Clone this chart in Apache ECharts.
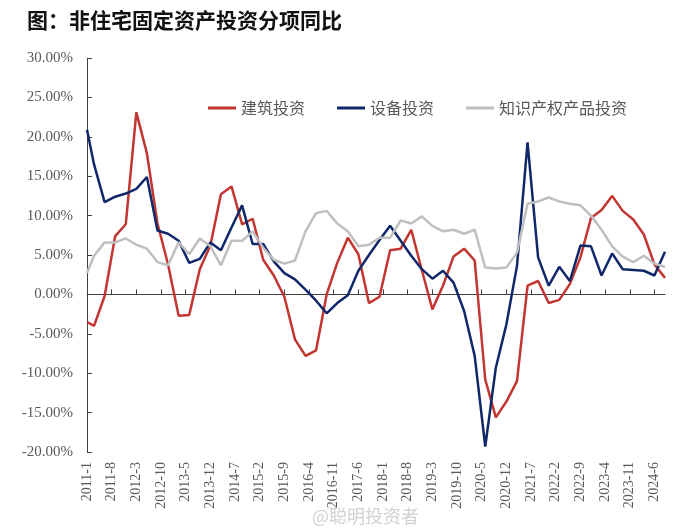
<!DOCTYPE html>
<html>
<head>
<meta charset="utf-8">
<script src="https://cdn.jsdelivr.net/npm/echarts@6/dist/echarts.min.js"></script>
<style>
  html, body { margin: 0; padding: 0; background: #fff; }
  #main { width: 700px; height: 532px; }
</style>
</head>
<body>
<div id="main"></div>
<script>
// 月度类目轴：2011-1 ~ 2024-9
const months = []
for (let y = 2011; y <= 2024; y++) {
  for (let m = 1; m <= 12; m++) {
    if (y === 2024 && m > 9) break
    months.push(y + '-' + m)
  }
}
// 数据点日期：首点 2011-1，之后为季末月
const pointDates = ['2011-1']
for (let y = 2011; y <= 2024; y++) {
  for (const m of [3, 6, 9, 12]) {
    if (y === 2024 && m > 9) break
    pointDates.push(y + '-' + m)
  }
}

const names = ['建筑投资', '设备投资', '知识产权产品投资']

// 建筑投资 同比(%)
const building = [
  -3.5, -4.0, -0.2, 7.4, 8.9, 23.1, 17.9, 9.0, 3.8, -2.7,
  -2.6, 3.2, 6.2, 12.7, 13.7, 8.9, 9.6, 4.4, 2.4, -0.3,
  -5.7, -7.8, -7.1, 0.0, 4.0, 7.2, 5.1, -1.1, -0.3, 5.6,
  5.8, 8.2, 3.1, -1.9, 1.1, 4.8, 5.8, 4.3, -10.8, -15.6,
  -13.6, -11.0, 1.1, 1.7, -1.1, -0.7, 1.3, 4.7, 9.7, 10.7,
  12.5, 10.6, 9.5, 7.6, 3.8, 2.1
]
// 设备投资 同比(%)
const equipment = [
  20.9, 16.5, 11.7, 12.4, 12.8, 13.4, 14.9, 8.1, 7.7, 6.8,
  4.0, 4.5, 6.6, 5.6, 8.5, 11.3, 6.4, 6.4, 4.2, 2.7,
  1.9, 0.6, -0.8, -2.4, -1.1, -0.1, 3.0, 5.0, 6.9, 8.7,
  6.8, 4.9, 3.2, 2.0, 3.0, 1.5, -2.1, -7.8, -19.3, -9.3,
  -3.8, 3.6, 19.3, 4.7, 1.1, 3.5, 1.7, 6.2, 6.1, 2.4,
  5.2, 3.2, 3.1, 3.0, 2.4, 5.4
]
// 知识产权产品投资 同比(%)
const ipp = [
  2.7, 4.9, 6.6, 6.6, 7.1, 6.3, 5.8, 4.1, 3.7, 6.6,
  5.1, 7.1, 6.1, 3.7, 6.8, 6.8, 8.0, 5.9, 4.4, 3.9,
  4.3, 8.0, 10.3, 10.6, 9.0, 8.0, 6.1, 6.3, 7.2, 7.2,
  9.4, 9.0, 9.9, 8.7, 8.0, 8.2, 7.7, 8.2, 3.4, 3.3,
  3.4, 5.3, 11.5, 11.8, 12.3, 11.8, 11.5, 11.3, 10.0, 8.2,
  6.1, 4.8, 4.1, 4.9, 3.9, 3.5
]

const colors = ['#c23531', '#10286a', '#bfbfbf']
const serif = '"Liberation Serif", "Times New Roman", serif'
const cjk = '"Noto Sans CJK SC", sans-serif'

function toPairs(vals) {
  return vals.map((v, i) => [pointDates[i], v])
}

const chart = echarts.init(document.getElementById('main'))
chart.setOption({
  animation: false,
  color: colors,
  title: {
    text: '图：非住宅固定资产投资分项同比',
    left: 27,
    top: 10,
    padding: 0,
    textStyle: { fontFamily: cjk, fontSize: 21, fontWeight: 'bold', color: '#111' }
  },
  legend: {
    data: names,
    left: 203,
    top: 95,
    icon: 'rect',
    itemWidth: 28,
    itemHeight: 3,
    itemGap: 32,
    textStyle: { fontFamily: cjk, fontSize: 16, color: '#595959' }
  },
  grid: { left: 87, right: 35, top: 58, bottom: 80 },
  xAxis: [
    {
      type: 'category',
      data: months,
      boundaryGap: false,
      position: 'bottom',
      axisLine: { show: false, onZero: false },
      axisTick: { show: false },
      axisLabel: {
        interval: 6,
        rotate: 90,
        margin: 10,
        fontFamily: serif,
        fontSize: 14,
        color: '#595959'
      },
      splitLine: { show: false }
    },
    {
      type: 'category',
      data: months,
      boundaryGap: false,
      position: 'top',
      axisLine: { show: true, onZero: true, lineStyle: { color: '#404040', width: 1 } },
      axisTick: { show: true, interval: 6, inside: false, length: 5, lineStyle: { color: '#404040' } },
      axisLabel: { show: false },
      splitLine: { show: false }
    }
  ],
  yAxis: {
    type: 'value',
    min: -20,
    max: 30,
    interval: 5,
    axisLine: { show: true, lineStyle: { color: '#404040', width: 1 } },
    axisTick: { show: true, inside: true, length: 5, lineStyle: { color: '#404040' } },
    axisLabel: {
      margin: 14,
      fontFamily: serif,
      fontSize: 15,
      color: '#595959',
      formatter: v => v.toFixed(2) + '%'
    },
    splitLine: { show: false }
  },
  series: [
    { name: names[0], type: 'line', data: toPairs(building), showSymbol: false, symbol: 'none', lineStyle: { width: 2.5, color: colors[0] } },
    { name: names[1], type: 'line', data: toPairs(equipment), showSymbol: false, symbol: 'none', lineStyle: { width: 2.5, color: colors[1] } },
    { name: names[2], type: 'line', data: toPairs(ipp), showSymbol: false, symbol: 'none', lineStyle: { width: 2.5, color: colors[2] } }
  ],
  graphic: [
    {
      type: 'text',
      left: 312,
      top: 507,
      style: { text: '@聪明投资者', fontFamily: cjk, fontSize: 18, fill: 'rgba(190,190,190,0.7)' }
    }
  ]
})
</script>
</body>
</html>
